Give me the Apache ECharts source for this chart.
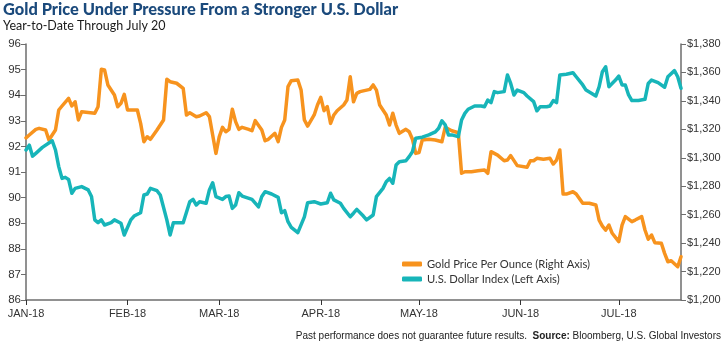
<!DOCTYPE html>
<html>
<head>
<meta charset="utf-8">
<script src="https://cdn.jsdelivr.net/npm/echarts@6/dist/echarts.min.js"></script>
<style>
  html, body { margin: 0; padding: 0; background: #fff; }
  #chart { width: 725px; height: 344px; }
</style>
</head>
<body>
<div id="chart"></div>
<script>
// Gold spot price, USD per ounce (right axis)
const goldPrice = [
  ['2018-01-01',1314],['2018-01-02',1316],['2018-01-04',1320],['2018-01-05',1320.7],['2018-01-07',1319.5],
  ['2018-01-08',1312.5],['2018-01-10',1319.5],['2018-01-11',1333.6],['2018-01-12',1336.4],['2018-01-14',1341.8],
  ['2018-01-15',1336.4],['2018-01-16',1339.4],['2018-01-17',1326.6],['2018-01-18',1332.4],['2018-01-22',1331.3],
  ['2018-01-23',1335.9],['2018-01-24',1362.2],['2018-01-25',1361.7],['2018-01-26',1351.2],['2018-01-28',1344.1],
  ['2018-01-29',1335.9],['2018-01-30',1338.3],['2018-01-31',1344.6],['2018-02-01',1333.6],['2018-02-04',1333.6],
  ['2018-02-05',1324.2],['2018-02-06',1311.3],['2018-02-07',1314.8],['2018-02-08',1313.0],['2018-02-10',1319.5],
  ['2018-02-12',1326.6],['2018-02-13',1355.2],['2018-02-14',1353.5],['2018-02-16',1352.4],['2018-02-18',1348.8],
  ['2018-02-19',1330.1],['2018-02-20',1331.7],['2018-02-22',1328.9],['2018-02-23',1329.4],['2018-02-25',1331.7],
  ['2018-02-26',1328.9],['2018-02-27',1316.0],['2018-02-28',1303.1],['2018-03-01',1314.8],['2018-03-02',1321.4],
  ['2018-03-03',1318.3],['2018-03-04',1320.0],['2018-03-05',1334.1],['2018-03-06',1325.4],['2018-03-07',1320.0],
  ['2018-03-08',1321.4],['2018-03-10',1320.0],['2018-03-11',1319.0],['2018-03-12',1326.1],['2018-03-14',1319.5],
  ['2018-03-15',1312.0],['2018-03-16',1313.0],['2018-03-18',1317.2],['2018-03-19',1311.3],['2018-03-20',1321.4],
  ['2018-03-21',1326.6],['2018-03-22',1350.0],['2018-03-23',1354.2],['2018-03-25',1354.7],['2018-03-26',1347.6],
  ['2018-03-27',1326.6],['2018-03-28',1322.3],['2018-03-30',1330.1],['2018-03-31',1337.1],['2018-04-01',1342.5],
  ['2018-04-02',1333.1],['2018-04-03',1335.9],['2018-04-04',1324.2],['2018-04-05',1330.1],['2018-04-06',1333.1],
  ['2018-04-08',1337.1],['2018-04-09',1340.6],['2018-04-10',1357.0],['2018-04-11',1339.4],['2018-04-12',1345.3],
  ['2018-04-13',1346.5],['2018-04-15',1347.6],['2018-04-16',1348.1],['2018-04-17',1351.2],['2018-04-18',1347.6],
  ['2018-04-19',1337.1],['2018-04-21',1330.1],['2018-04-22',1323.0],['2018-04-23',1331.3],['2018-04-24',1323.0],
  ['2018-04-25',1317.2],['2018-04-27',1320.0],['2018-04-28',1318.3],['2018-04-29',1313.0],['2018-04-30',1303.1],
  ['2018-05-01',1303.6],['2018-05-02',1312.5],['2018-05-04',1313.0],['2018-05-06',1312.5],['2018-05-08',1311.3],
  ['2018-05-09',1321.4],['2018-05-11',1319.0],['2018-05-13',1317.6],['2018-05-14',1289.1],['2018-05-15',1290.2],
  ['2018-05-17',1290.2],['2018-05-19',1290.9],['2018-05-21',1291.4],['2018-05-22',1289.1],['2018-05-23',1304.3],
  ['2018-05-25',1301.9],['2018-05-27',1297.9],['2018-05-28',1298.4],['2018-05-29',1301.5],['2018-05-31',1294.5],
  ['2018-06-03',1293.3],['2018-06-04',1297.9],['2018-06-05',1297.9],['2018-06-06',1299.6],['2018-06-08',1298.9],
  ['2018-06-10',1299.6],['2018-06-11',1295.6],['2018-06-12',1298.4],['2018-06-13',1305.5],['2018-06-14',1274.5],
  ['2018-06-15',1274.5],['2018-06-17',1276.1],['2018-06-18',1274.5],['2018-06-20',1268.0],['2018-06-22',1268.0],
  ['2018-06-24',1266.8],['2018-06-25',1256.2],['2018-06-26',1252.0],['2018-06-27',1249.2],['2018-06-28',1252.7],
  ['2018-06-29',1246.9],['2018-07-01',1241.0],['2018-07-02',1252.7],['2018-07-03',1258.6],['2018-07-05',1255.1],
  ['2018-07-06',1256.2],['2018-07-08',1258.6],['2018-07-09',1249.2],['2018-07-10',1242.7],['2018-07-11',1245.7],
  ['2018-07-12',1240.3],['2018-07-14',1239.9],['2018-07-15',1232.8],['2018-07-16',1226.9],['2018-07-17',1227.6],
  ['2018-07-19',1223.4],['2018-07-20',1230.4]
];

// U.S. Dollar Index (left axis)
const dollarIndex = [
  ['2018-01-01',91.86],['2018-01-02',92.05],['2018-01-03',91.62],['2018-01-04',91.73],['2018-01-06',91.96],
  ['2018-01-09',92.22],['2018-01-10',91.86],['2018-01-11',91.21],['2018-01-12',90.75],['2018-01-13',90.79],
  ['2018-01-14',90.71],['2018-01-15',90.17],['2018-01-16',90.36],['2018-01-18',90.43],['2018-01-20',90.30],
  ['2018-01-21',90.04],['2018-01-22',89.13],['2018-01-23',89.02],['2018-01-24',89.13],['2018-01-25',88.93],
  ['2018-01-27',89.02],['2018-01-28',89.13],['2018-01-30',89.00],['2018-01-31',88.54],['2018-02-02',89.13],
  ['2018-02-03',89.28],['2018-02-05',89.41],['2018-02-06',90.10],['2018-02-07',90.14],['2018-02-08',90.36],
  ['2018-02-10',90.27],['2018-02-11',90.10],['2018-02-13',89.13],['2018-02-14',88.54],['2018-02-15',89.02],
  ['2018-02-17',89.02],['2018-02-18',89.02],['2018-02-20',89.84],['2018-02-21',89.93],['2018-02-22',89.71],
  ['2018-02-23',89.84],['2018-02-25',89.78],['2018-02-26',90.30],['2018-02-27',90.58],['2018-02-28',90.04],
  ['2018-03-02',89.93],['2018-03-03',90.04],['2018-03-04',90.06],['2018-03-05',89.58],['2018-03-06',89.71],
  ['2018-03-07',90.19],['2018-03-08',90.06],['2018-03-11',89.93],['2018-03-13',89.64],['2018-03-14',90.04],
  ['2018-03-15',90.23],['2018-03-17',90.14],['2018-03-19',90.01],['2018-03-20',89.41],['2018-03-21',89.49],
  ['2018-03-22',89.06],['2018-03-23',88.84],['2018-03-25',88.63],['2018-03-27',89.25],['2018-03-28',89.80],
  ['2018-03-30',89.84],['2018-04-01',89.75],['2018-04-03',89.80],['2018-04-04',90.17],['2018-04-05',89.91],
  ['2018-04-07',89.78],['2018-04-08',89.58],['2018-04-10',89.25],['2018-04-11',89.39],['2018-04-12',89.54],
  ['2018-04-14',89.28],['2018-04-15',89.13],['2018-04-17',89.32],['2018-04-18',90.04],['2018-04-20',90.36],
  ['2018-04-21',90.62],['2018-04-22',90.75],['2018-04-23',90.56],['2018-04-24',91.27],['2018-04-25',91.40],
  ['2018-04-27',91.44],['2018-04-28',91.60],['2018-04-29',91.79],['2018-04-30',92.32],['2018-05-02',92.36],
  ['2018-05-04',92.45],['2018-05-06',92.57],['2018-05-07',92.71],['2018-05-08',93.00],['2018-05-09',92.84],
  ['2018-05-10',92.45],['2018-05-11',92.45],['2018-05-13',92.38],['2018-05-14',93.03],['2018-05-15',93.29],
  ['2018-05-16',93.45],['2018-05-18',93.58],['2018-05-20',93.58],['2018-05-21',93.55],['2018-05-22',93.81],
  ['2018-05-23',93.71],['2018-05-24',94.14],['2018-05-25',94.10],['2018-05-27',94.14],['2018-05-28',94.79],
  ['2018-05-29',94.46],['2018-05-30',94.01],['2018-05-31',94.20],['2018-06-02',94.10],['2018-06-03',93.97],
  ['2018-06-05',93.75],['2018-06-06',93.39],['2018-06-07',93.55],['2018-06-09',93.55],['2018-06-10',93.58],
  ['2018-06-11',93.79],['2018-06-12',93.71],['2018-06-13',94.79],['2018-06-15',94.82],['2018-06-17',94.88],
  ['2018-06-18',94.72],['2018-06-20',94.40],['2018-06-21',94.20],['2018-06-23',94.05],['2018-06-24',93.97],
  ['2018-06-25',94.33],['2018-06-26',94.92],['2018-06-27',95.11],['2018-06-28',94.33],['2018-06-30',94.59],
  ['2018-07-01',94.75],['2018-07-02',94.40],['2018-07-03',94.40],['2018-07-04',94.01],['2018-07-05',93.79],
  ['2018-07-07',93.79],['2018-07-09',93.84],['2018-07-10',94.46],['2018-07-11',94.59],['2018-07-13',94.49],
  ['2018-07-15',94.31],['2018-07-16',94.72],['2018-07-18',94.96],['2018-07-19',94.72],['2018-07-20',94.27]
];

const monthNames = ['JAN','FEB','MAR','APR','MAY','JUN','JUL','AUG','SEP','OCT','NOV','DEC'];
const seriesNames = ['Gold Price Per Ounce (Right Axis)', 'U.S. Dollar Index (Left Axis)'];
const dateRange = ['2018-01-01', '2018-07-20'];
const dollarScale = { min: 86, max: 96, step: 1 };
const goldScale = { min: 1200, max: 1380, step: 20 };

const GOLD = '#f7931e';
const TEAL = '#17b5b9';
const AXIS = '#6d6d6d';
const SANS = "'Liberation Sans', Arial, sans-serif";
const DAY = 86400000;

const chart = echarts.init(document.getElementById('chart'), null, { renderer: 'canvas' });

chart.setOption({
  animation: false,
  backgroundColor: '#fff',
  title: [{
    text: 'Gold Price Under Pressure From a Stronger U.S. Dollar',
    left: 3, top: 2, padding: 0,
    textStyle: { fontFamily: 'Lato', fontWeight: 900, fontSize: 16.4, color: '#1b4a7c' }
  }, {
    text: 'Year-to-Date Through July 20',
    left: 3, top: 19, padding: 0,
    textStyle: { fontFamily: 'Lato', fontWeight: 'normal', fontSize: 12.5, color: '#1a1a1a' }
  }, {
    text: '{n|Past performance does not guarantee future results.  }{b|Source:}{n| Bloomberg, U.S. Global Investors}',
    right: 4, bottom: 3, padding: 0,
    textStyle: {
      fontWeight: 'normal',
      rich: {
        n: { fontFamily: SANS, fontSize: 10, fontWeight: 'normal', color: '#222' },
        b: { fontFamily: SANS, fontSize: 10, fontWeight: 'bold', color: '#222' }
      }
    }
  }],
  legend: {
    data: seriesNames,
    orient: 'vertical',
    left: 397, top: 252,
    icon: 'roundRect',
    itemWidth: 20, itemHeight: 5, itemGap: 1,
    textStyle: { fontFamily: 'Lato', fontSize: 11.2, color: '#333', lineHeight: 14 }
  },
  grid: { left: 26, right: 44, top: 44, bottom: 44, containLabel: false },
  xAxis: {
    type: 'time',
    min: dateRange[0], max: dateRange[1],
    minInterval: 28 * DAY, maxInterval: 31 * DAY,
    axisLine: { lineStyle: { color: AXIS, width: 1.5 } },
    axisTick: { show: true, length: 5, lineStyle: { color: '#333' } },
    splitLine: { show: false },
    axisLabel: {
      fontFamily: SANS, fontSize: 11, color: '#333', margin: 8,
      showMaxLabel: false,
      formatter: v => monthNames[new Date(v).getMonth()] + '-18'
    }
  },
  yAxis: [{
    type: 'value', position: 'left',
    min: dollarScale.min, max: dollarScale.max, interval: dollarScale.step,
    axisLine: { show: true, lineStyle: { color: AXIS, width: 1.5 } },
    axisTick: { show: true, length: 5, lineStyle: { color: AXIS } },
    splitLine: { show: false },
    axisLabel: { fontFamily: SANS, fontSize: 11.5, color: '#333', margin: 5 }
  }, {
    type: 'value', position: 'right',
    min: goldScale.min, max: goldScale.max, interval: goldScale.step,
    axisLine: { show: true, lineStyle: { color: AXIS, width: 1.5 } },
    axisTick: { show: true, length: 5, lineStyle: { color: AXIS } },
    splitLine: { show: false },
    axisLabel: {
      fontFamily: SANS, fontSize: 11, color: '#333', margin: 6,
      formatter: v => '$' + v.toLocaleString('en-US')
    }
  }],
  series: [{
    name: seriesNames[0], type: 'line', yAxisIndex: 1,
    data: goldPrice, showSymbol: false, symbol: 'none',
    lineStyle: { color: GOLD, width: 3.5, join: 'round', cap: 'round' },
    itemStyle: { color: GOLD }
  }, {
    name: seriesNames[1], type: 'line', yAxisIndex: 0,
    data: dollarIndex, showSymbol: false, symbol: 'none',
    lineStyle: { color: TEAL, width: 3.5, join: 'round', cap: 'round' },
    itemStyle: { color: TEAL }
  }]
});
</script>
</body>
</html>
